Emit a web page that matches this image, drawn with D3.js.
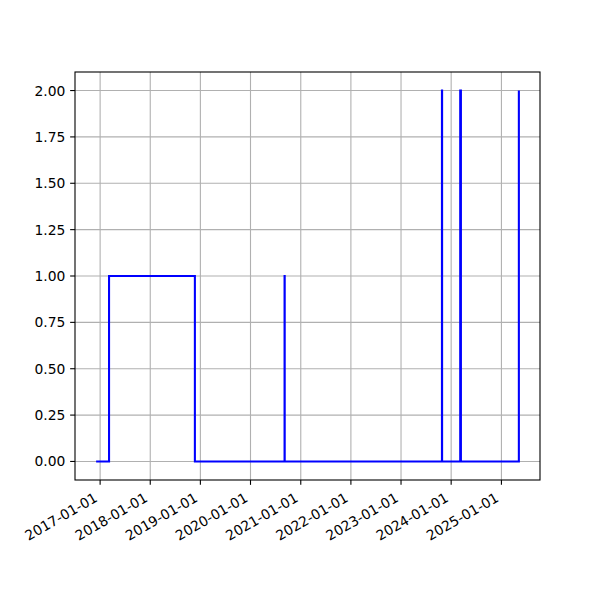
<!DOCTYPE html>
<html>
<head>
<meta charset="utf-8">
<script src="https://cdn.jsdelivr.net/npm/d3@7"></script>
<style>
  html, body { margin: 0; padding: 0; background: #fff; }
  svg { display: block; }
  text { font-family: "DejaVu Sans", sans-serif; font-size: 13.89px; fill: #000; }
</style>
</head>
<body>
<svg id="chart" width="600" height="600"></svg>
<script>
// Step data (drawn as steps-post)
const dates = ["2016-12-03", "2017-03-07", "2018-11-22", "2020-09-05", "2020-09-06",
               "2023-10-26", "2023-10-27", "2024-03-07", "2024-03-12", "2025-05-08"];
const values = [0, 1, 0, 1, 0, 2, 0, 2, 0, 2];
const xTickLabels = ["2017-01-01", "2018-01-01", "2019-01-01", "2020-01-01", "2021-01-01",
                     "2022-01-01", "2023-01-01", "2024-01-01", "2025-01-01"];
const yTickValues = [0, 0.25, 0.5, 0.75, 1, 1.25, 1.5, 1.75, 2];

(function () {
const parse = d3.utcParse("%Y-%m-%d");
const data = dates.map((d, i) => ({ t: parse(d), v: values[i] }));

const svg = d3.select("#chart");
const pL = 75, pR = 540, pT = 72, pB = 480;

const tExt = d3.extent(data, d => d.t);
const span = tExt[1] - tExt[0];
const x = d3.scaleUtc()
  .domain([new Date(+tExt[0] - span * 0.05), new Date(+tExt[1] + span * 0.05)])
  .range([pL, pR]);
const vMax = d3.max(values), vMin = d3.min(values);
const vPad = (vMax - vMin) * 0.05;
const y = d3.scaleLinear().domain([vMin - vPad, vMax + vPad]).range([pB, pT]);

const xTicks = xTickLabels.map(parse);

// grid
const g = svg.append("g");
g.selectAll("line.gx").data(xTicks).enter().append("line")
  .attr("x1", d => x(d)).attr("x2", d => x(d))
  .attr("y1", pT).attr("y2", pB)
  .attr("stroke", "#b0b0b0").attr("stroke-width", 1.1);
g.selectAll("line.gy").data(yTickValues).enter().append("line")
  .attr("x1", pL).attr("x2", pR)
  .attr("y1", d => y(d)).attr("y2", d => y(d))
  .attr("stroke", "#b0b0b0").attr("stroke-width", 1.1);

// line
const line = d3.line().x(d => x(d.t)).y(d => y(d.v)).curve(d3.curveStepAfter);
svg.append("path").datum(data)
  .attr("d", line).attr("fill", "none")
  .attr("stroke", "#0000ff").attr("stroke-width", 2.08)
  .attr("stroke-linejoin", "miter").attr("stroke-linecap", "butt");

// frame
svg.append("rect").attr("x", pL).attr("y", pT)
  .attr("width", pR - pL).attr("height", pB - pT)
  .attr("fill", "none").attr("stroke", "#000").attr("stroke-width", 1.1);

// x axis ticks
const xAxis = svg.append("g");
xAxis.selectAll("line").data(xTicks).enter().append("line")
  .attr("x1", d => x(d)).attr("x2", d => x(d))
  .attr("y1", pB).attr("y2", pB + 4.86)
  .attr("stroke", "#000").attr("stroke-width", 1.1);
xAxis.selectAll("text").data(xTicks).enter().append("text")
  .attr("transform", d => `translate(${x(d)},${pB + 23.5}) rotate(-30)`)
  .attr("text-anchor", "end")
  .attr("dy", "-0.24em")
  .text((d, i) => xTickLabels[i]);

// y axis ticks
const yAxis = svg.append("g");
yAxis.selectAll("line").data(yTickValues).enter().append("line")
  .attr("x1", pL - 4.86).attr("x2", pL)
  .attr("y1", d => y(d)).attr("y2", d => y(d))
  .attr("stroke", "#000").attr("stroke-width", 1.1);
yAxis.selectAll("text").data(yTickValues).enter().append("text")
  .attr("x", pL - 9.7).attr("y", d => y(d))
  .attr("text-anchor", "end").attr("dy", "0.36em")
  .text(d => d3.format(".2f")(d));
})();
</script>
</body>
</html>
